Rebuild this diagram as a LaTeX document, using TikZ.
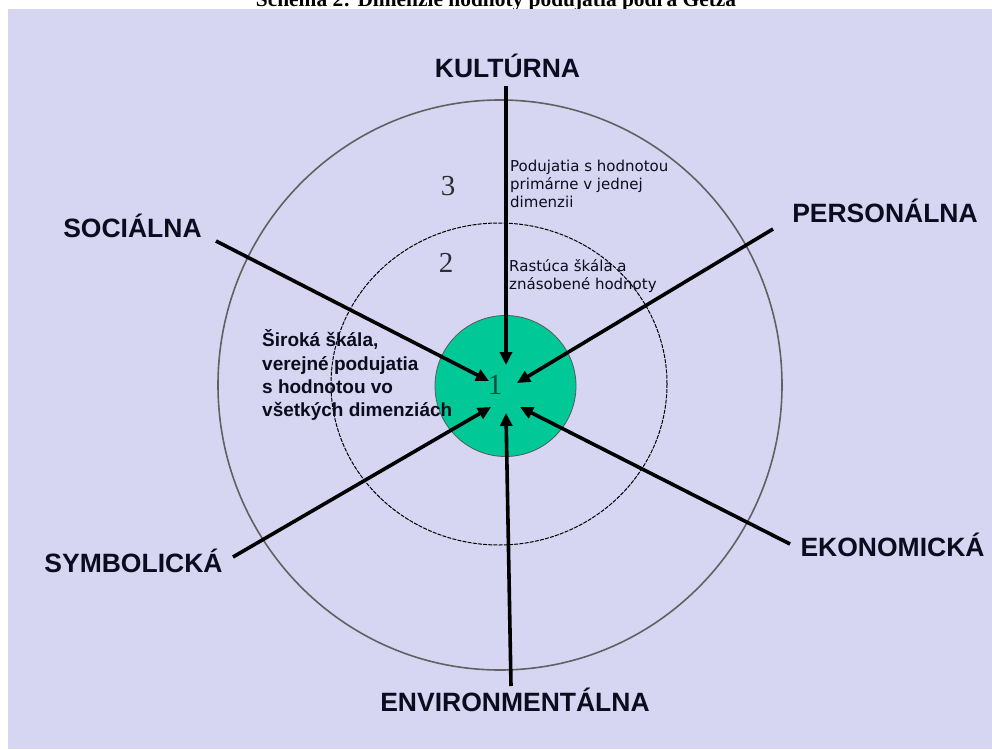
\documentclass[tikz,border=0pt]{standalone}
\usepackage{fontspec}
\setmainfont{Liberation Serif}
\setsansfont{Liberation Sans}
\newfontfamily\notefont{DejaVu Sans}
\usetikzlibrary{arrows.meta}
\definecolor{bgc}{RGB}{214,214,243}
\definecolor{grn}{RGB}{0,200,150}
\definecolor{ink}{RGB}{12,12,30}
\definecolor{numc}{RGB}{45,45,55}
\definecolor{onec}{RGB}{25,75,60}
\tikzset{
  dimlabel/.style={font=\sffamily\bfseries\fontsize{26.5}{30}\selectfont, text=ink, inner sep=0pt, anchor=base},
  notetext/.style={font=\notefont\fontsize{15}{18}\selectfont, text=ink, inner sep=0pt, anchor=base west},
  boldnote/.style={font=\sffamily\bfseries\fontsize{19}{23.4}\selectfont, text=ink, inner sep=0pt, anchor=base west},
  numlabel/.style={font=\rmfamily\fontsize{29}{32}\selectfont, text=numc, inner sep=0pt, anchor=base},
  arr/.style={line width=3.6pt, -{Triangle[length=13pt,width=12pt]}, black},
  titletext/.style={font=\rmfamily\bfseries\fontsize{21.4}{24}\selectfont, inner sep=0pt, anchor=base}
}
\begin{document}
\begin{tikzpicture}[x=1pt,y=-1pt]
\useasboundingbox (0,0) rectangle (992,749);
\clip (0,0) rectangle (992,749);
\node[titletext] (title) at (496,6.5) {Schéma 2: Dimenzie hodnoty podujatia podľa Getza};
\fill[bgc] (8,9) rectangle (992,749);

% rings
\draw[line width=1.6pt, black!62] (500,385) ellipse [x radius=282, y radius=285];
\draw[line width=1pt, black, dash pattern=on 4pt off 1.2pt] (499,384) ellipse [x radius=168, y radius=161];
\node[circle, fill=grn, draw=black!65, line width=0.8pt, minimum size=141pt, inner sep=0pt] (core) at (505.5,386) {};

% numbers
\node[numlabel] (n3) at (448,195) {3};
\node[numlabel] (n2) at (446,272.5) {2};
\node[numlabel, text=onec] (n1) at (495,394) {1};

% dimension labels
\node[dimlabel] (kul) at (507.5,78) {KULTÚRNA};
\node[dimlabel] (soc) at (132.5,237) {SOCIÁLNA};
\node[dimlabel] (per) at (885,222) {PERSONÁLNA};
\node[dimlabel] (sym) at (133.5,572) {SYMBOLICKÁ};
\node[dimlabel] (eko) at (892.5,556) {EKONOMICKÁ};
\node[dimlabel] (env) at (515,711) {ENVIRONMENTÁLNA};

% arrow ends
\coordinate (sKul) at (506,86);
\coordinate (tKul) at (506,365);
\coordinate (sSoc) at (216,241);
\coordinate (tSoc) at (489,381);
\coordinate (sPer) at (773,229);
\coordinate (tPer) at (517,383);
\coordinate (sSym) at (233,557);
\coordinate (tSym) at (491,407);
\coordinate (sEko) at (790,544);
\coordinate (tEko) at (520,407);
\coordinate (sEnv) at (511,686);
\coordinate (tEnv) at (506,413);

\draw[arr] (sKul) -- (tKul);
\draw[arr] (sSoc) -- (tSoc);
\draw[arr] (sPer) -- (tPer);
\draw[arr] (sSym) -- (tSym);
\draw[arr] (sEko) -- (tEko);
\draw[arr] (sEnv) -- (tEnv);

% notes
\node[notetext] (note3) at (510,171.7) {\begin{tabular}[t]{@{}l@{}}Podujatia s hodnotou\\primárne v jednej\\dimenzii\end{tabular}};
\node[notetext] (note2) at (509,271) {\begin{tabular}[t]{@{}l@{}}Rastúca škála a\\znásobené hodnoty\end{tabular}};
\node[boldnote] (note1) at (262,346.7) {\begin{tabular}[t]{@{}l@{}}Široká škála,\\verejné podujatia\\s hodnotou vo\\všetkých dimenziách\end{tabular}};
\end{tikzpicture}
\end{document}
